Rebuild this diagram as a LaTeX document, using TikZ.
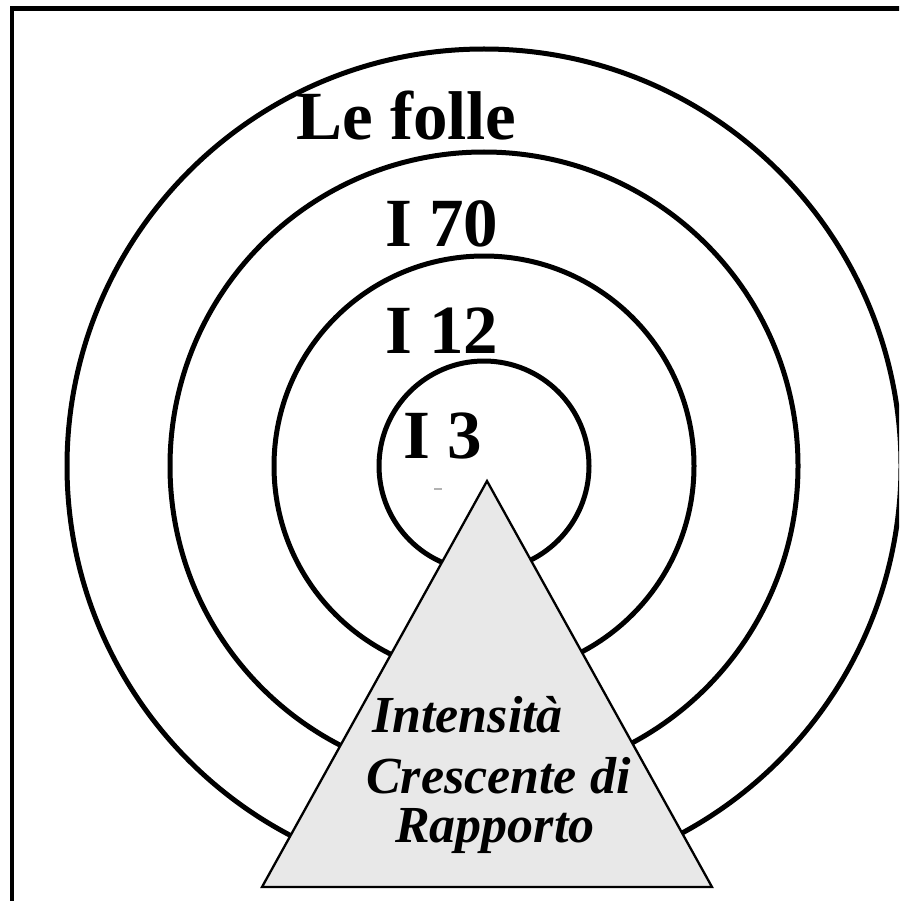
\documentclass[tikz,border=0pt]{standalone}
\usepackage{fontspec}
\setmainfont{Liberation Serif}
\definecolor{trifill}{HTML}{E8E8E8}
\tikzset{
  ring/.style={draw=black, line width=5pt},
  frameline/.style={draw=black, line width=4.5pt},
  tri/.style={draw=black, fill=trifill, line width=2.3pt, line join=miter},
  ringlabel/.style={inner sep=0pt, anchor=base west, font=\fontsize{69}{80}\selectfont\bfseries},
  trilabel/.style={inner sep=0pt, anchor=base west, font=\fontsize{52}{60}\selectfont\bfseries\itshape},
}
\begin{document}
\begin{tikzpicture}[x=1pt,y=-1pt]
\useasboundingbox (0,0) rectangle (899,901);
\clip (0,0) rectangle (899,901);
% frame (right and bottom edges lie outside the picture)
\draw[frameline] (12,8.5) rectangle (920,920);
% centre of the rings
\coordinate (c) at (484,466);
\draw[ring] (c) circle[radius=417];
\draw[ring] (c) circle[radius=314];
\draw[ring] (c) circle[radius=210];
\draw[ring] (c) circle[radius=105];
% triangle
\coordinate (apex) at (487,481);
\coordinate (bl) at (262,887);
\coordinate (br) at (712,887);
\draw[tri] (apex) -- (br) -- (bl) -- cycle;
% small mark
\coordinate (m1) at (434,489);
\coordinate (m2) at (442,489);
\draw[line width=1.5pt, draw=gray!60] (m1) -- (m2);
% ring labels
\node[ringlabel] (lf) at (296,140) {Le folle};
\node[ringlabel] (i70) at (385,247) {I 70};
\node[ringlabel] (i12) at (385,353) {I 12};
\node[ringlabel] (i3) at (403,458) {I 3};
% triangle labels
\node[trilabel] (t1) at (372,732) {Intensità};
\node[trilabel] (t2) at (366,793) {Crescente di};
\node[trilabel] (t3) at (395,842) {Rapporto};
\end{tikzpicture}
\end{document}
